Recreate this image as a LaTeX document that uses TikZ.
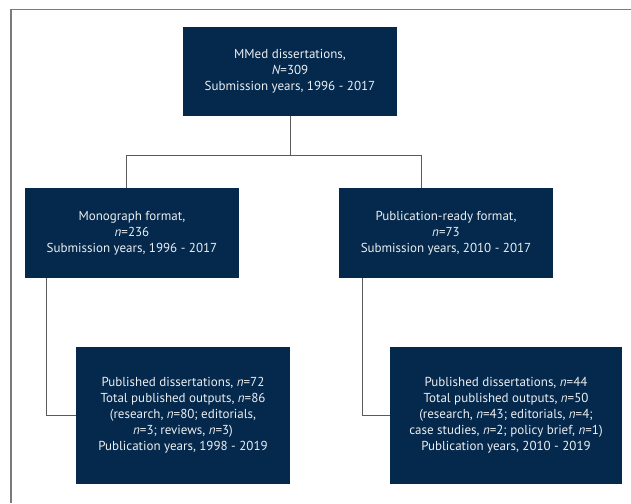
\documentclass[tikz,border=0pt]{standalone}
\usepackage{fontspec}
\setmainfont{PT Sans}
\usetikzlibrary{calc}
\definecolor{navy}{RGB}{5,41,76}
\definecolor{rule}{RGB}{90,90,90}

\tikzset{
    box/.style={fill=navy, text=white!92!navy, align=center, minimum width=214pt, inner sep=0pt,
        font=\fontsize{13}{16}\selectfont},
    link/.style={draw=rule, line width=0.9pt}
}

\begin{document}
\begin{tikzpicture}[x=1pt,y=-1pt]
        \useasboundingbox (0,0) rectangle (631,503);

        % Rahmen
        \draw[rule!80, line width=1.6pt] (11,503) -- (11,9.5) -- (631,9.5);

        % Kaesten
        \node[box, minimum height=89pt] (top) at (290,71.5)
            {MMed dissertations,\\ \textit{N}=309\\ Submission years, 1996 - 2017};
        \node[box, minimum height=90pt] (mono) at (132,233)
            {Monograph format,\\ \textit{n}=236\\ Submission years, 1996 - 2017};
        \node[box, minimum height=90pt] (pubready) at (446,233)
            {Publication-ready format,\\ \textit{n}=73\\ Submission years, 2010 - 2017};
        \node[box, minimum height=137pt] (monopub) at (183,415.5)
            {Published dissertations, \textit{n}=72\\ Total published outputs, \textit{n}=86\\
             (research, \textit{n}=80; editorials,\\ \textit{n}=3; reviews, \textit{n}=3)\\
             Publication years, 1998 - 2019};
        \node[box, minimum height=137pt, minimum width=232pt] (readypub) at (506,415.5)
            {Published dissertations, \textit{n}=44\\ Total published outputs, \textit{n}=50\\
             (research, \textit{n}=43; editorials, \textit{n}=4;\\ case studies, \textit{n}=2; policy brief, \textit{n}=1)\\
             Publication years, 2010 - 2019};

        % Verbindungen
        \coordinate (split) at ($(top.south)+(0,39)$);
        \draw[link] (top.south) -- (split);
        \draw[link] (split) -| ([xshift=-6pt]mono.north);
        \draw[link] (split) -| ([xshift=-25pt]pubready.north);
        \draw[link] ([xshift=22pt]mono.south west) |- (monopub.west);
        \draw[link] ([xshift=24pt]pubready.south west) |- (readypub.west);
    \end{tikzpicture}
\end{document}
